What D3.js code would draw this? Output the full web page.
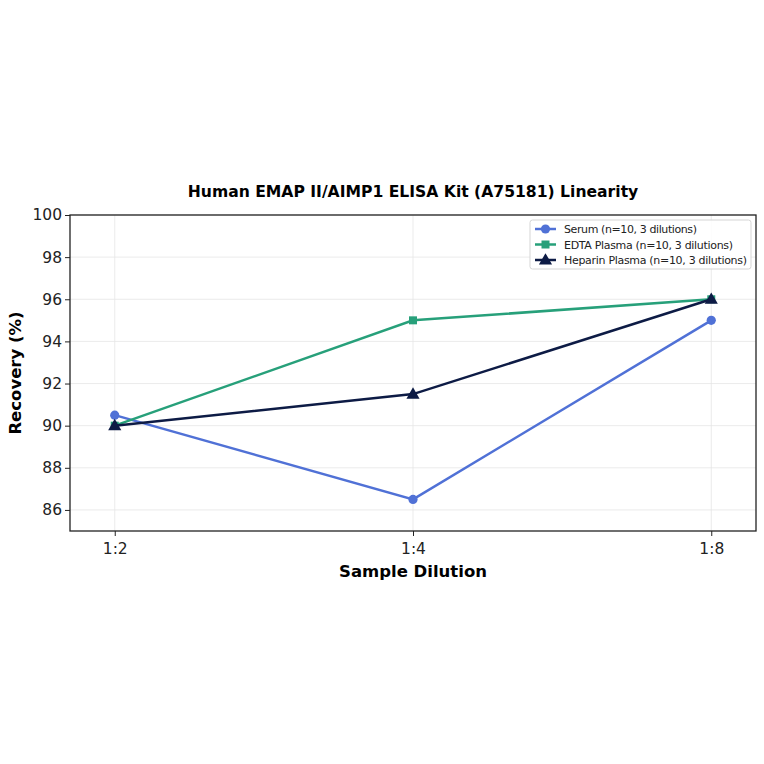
<!DOCTYPE html>
<html>
<head>
<meta charset="utf-8">
<script src="https://cdn.jsdelivr.net/npm/d3@7"></script>
<style>
  body { margin: 0; background: #fff; }
  text { font-family: "DejaVu Sans", sans-serif; }
</style>
</head>
<body>
<div id="chart"></div>
<script>
var dilutions = ["1:2", "1:4", "1:8"];
var serum = [90.5, 86.5, 95];
var edta = [90, 95, 96];
var heparin = [90, 91.5, 96];
var seriesNames = ["Serum (n=10, 3 dilutions)", "EDTA Plasma (n=10, 3 dilutions)", "Heparin Plasma (n=10, 3 dilutions)"];
var yTicks = [86, 88, 90, 92, 94, 96, 98, 100];

var width = 764, height = 764;
var plotLeft = 70, plotRight = 756, plotTop = 215, plotBottom = 531;

var series = [
  { name: seriesNames[0], values: serum, color: "#5071d6", marker: "circle" },
  { name: seriesNames[1], values: edta, color: "#27a07a", marker: "square" },
  { name: seriesNames[2], values: heparin, color: "#0d1b45", marker: "triangle" }
];

var svg = d3.select("#chart").append("svg")
  .attr("width", width)
  .attr("height", height);

var x = d3.scaleLinear().domain([-0.15, 2.15]).range([plotLeft, plotRight]);
var y = d3.scaleLinear().domain([85, 100]).range([plotBottom, plotTop]);

// grid
svg.append("g").selectAll("line").data(yTicks).enter().append("line")
  .attr("x1", plotLeft).attr("x2", plotRight)
  .attr("y1", d => y(d)).attr("y2", d => y(d))
  .attr("stroke", "#e6e6e6").attr("stroke-width", 0.8);
svg.append("g").selectAll("line").data(dilutions).enter().append("line")
  .attr("x1", (d, i) => x(i)).attr("x2", (d, i) => x(i))
  .attr("y1", plotTop).attr("y2", plotBottom)
  .attr("stroke", "#e6e6e6").attr("stroke-width", 0.8);

// axes
var xAxis = d3.axisBottom(x).tickValues([0, 1, 2]).tickFormat(i => dilutions[i]).tickSize(5).tickSizeOuter(0);
var yAxis = d3.axisLeft(y).tickValues(yTicks).tickSize(5).tickSizeOuter(0);

var gx = svg.append("g").attr("transform", "translate(0," + plotBottom + ")").call(xAxis);
var gy = svg.append("g").attr("transform", "translate(" + plotLeft + ",0)").call(yAxis);
[gx, gy].forEach(g => {
  g.select(".domain").remove();
  g.selectAll("text").attr("font-size", 15.5).attr("fill", "#222").style("font-family", "DejaVu Sans");
  g.selectAll("line").attr("stroke", "#222");
});
gx.selectAll("text").attr("dy", "0.95em");

// frame
svg.append("rect")
  .attr("x", plotLeft).attr("y", plotTop)
  .attr("width", plotRight - plotLeft).attr("height", plotBottom - plotTop)
  .attr("fill", "none").attr("stroke", "#222").attr("stroke-width", 1.3);

// lines
var line = d3.line().x((d, i) => x(i)).y(d => y(d));
var tri = d3.symbol().type(d3.symbolTriangle).size(75);
var sq = d3.symbol().type(d3.symbolSquare).size(64);

function drawMarker(g, marker, color, cx, cy) {
  if (marker === "circle") {
    g.append("circle").attr("cx", cx).attr("cy", cy).attr("r", 4.6).attr("fill", color);
  } else if (marker === "square") {
    g.append("path").attr("d", sq()).attr("transform", "translate(" + cx + "," + cy + ")").attr("fill", color);
  } else {
    g.append("path").attr("d", tri()).attr("transform", "translate(" + cx + "," + (cy + 0.8) + ")").attr("fill", color);
  }
}

series.forEach(s => {
  var g = svg.append("g");
  g.append("path").datum(s.values)
    .attr("d", line)
    .attr("fill", "none")
    .attr("stroke", s.color)
    .attr("stroke-width", 2.5);
  s.values.forEach((v, i) => drawMarker(g, s.marker, s.color, x(i), y(v)));
});

// legend
var lg = svg.append("g");
lg.append("rect")
  .attr("x", 530).attr("y", 220).attr("width", 221).attr("height", 49)
  .attr("rx", 2.5).attr("fill", "#fff").attr("fill-opacity", 0.85)
  .attr("stroke", "#d5d5d5");
series.forEach((s, i) => {
  var ly = 229 + i * 15.5;
  lg.append("line").attr("x1", 535).attr("x2", 556).attr("y1", ly).attr("y2", ly)
    .attr("stroke", s.color).attr("stroke-width", 2.5);
  drawMarker(lg, s.marker, s.color, 545.5, ly);
  lg.append("text").attr("x", 564).attr("y", ly + 4)
    .attr("font-size", 11).attr("fill", "#222")
    .attr("textLength", i === 0 ? 133 : (i === 1 ? 169 : 183))
    .text(s.name);
});

// title & labels
svg.append("text").attr("x", (plotLeft + plotRight) / 2).attr("y", 197)
  .attr("text-anchor", "middle").attr("font-size", 15.6).attr("font-weight", "bold")
  .text("Human EMAP II/AIMP1 ELISA Kit (A75181) Linearity");
svg.append("text").attr("x", (plotLeft + plotRight) / 2).attr("y", 577)
  .attr("text-anchor", "middle").attr("font-size", 16.5).attr("font-weight", "bold")
  .text("Sample Dilution");
svg.append("text")
  .attr("transform", "translate(21," + ((plotTop + plotBottom) / 2) + ") rotate(-90)")
  .attr("text-anchor", "middle").attr("font-size", 16.5).attr("font-weight", "bold")
  .text("Recovery (%)");
</script>
</body>
</html>
